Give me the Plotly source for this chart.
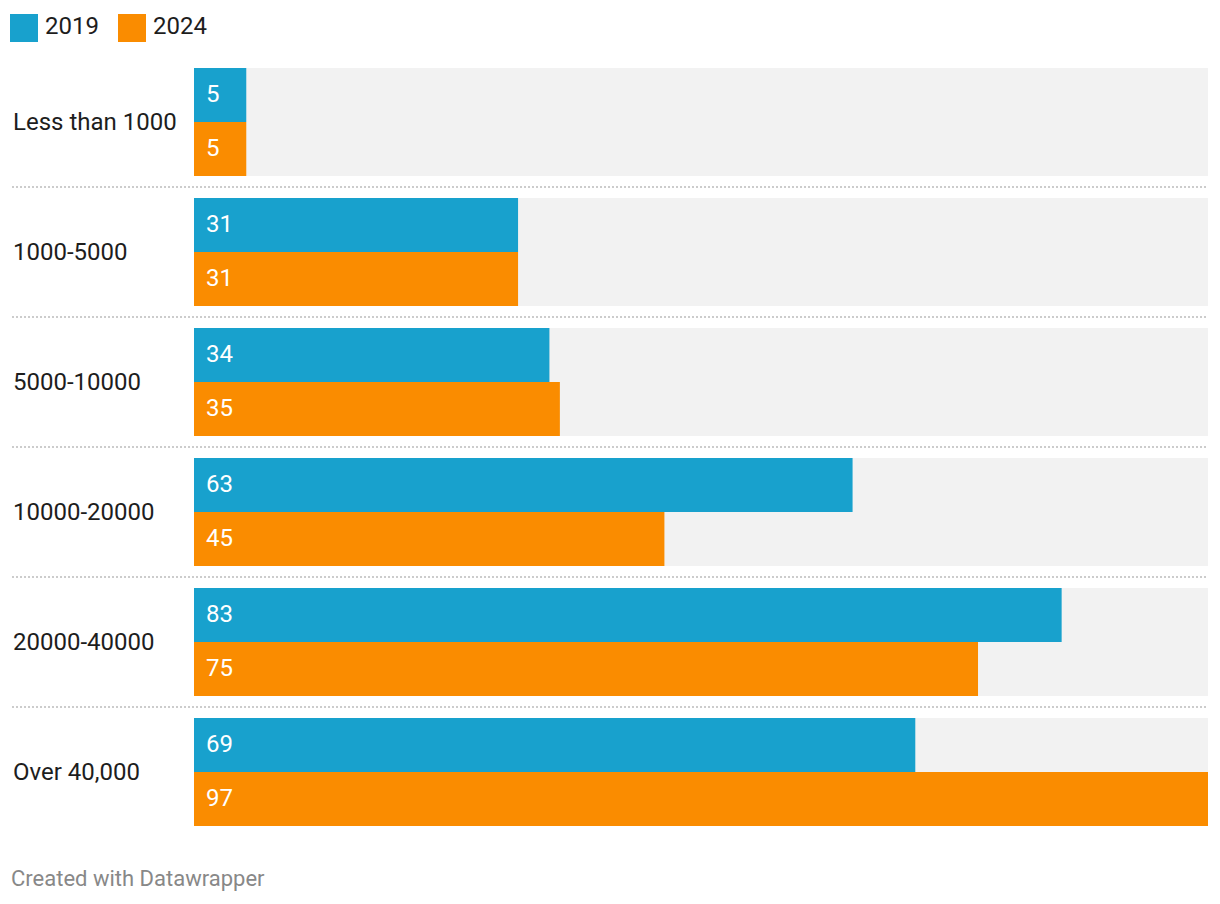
import plotly.graph_objects as go

categories = ["Less than 1000", "1000-5000", "5000-10000", "10000-20000", "20000-40000", "Over 40,000"]
series_names = ["2019", "2024"]
values_2019 = [5, 31, 34, 63, 83, 69]
values_2024 = [5, 31, 35, 45, 75, 97]
footer_text = "Created with Datawrapper"

# page body has an 8px margin; positions below are page pixels
OFF = 8
W, H = 1220 - OFF, 904 - OFF
ML, MR, MT, MB = 194 - OFF, 12, 57 - OFF, 67
PW = W - ML - MR
PH = H - MT - MB

def px_x(p):
    return (p - OFF - ML) / PW

def px_y(p):
    return (H - MB - (p - OFF)) / PH

BLUE = "#18a1cd"
ORANGE = "#fa8c00"
GRAY = "#f2f2f2"
FONT = "Roboto"

band = 108 / 130
half = band / 2
bar_px = 54

maxval = max(values_2019 + values_2024)

fig = go.Figure()
fig.add_bar(
    x=[maxval] * len(categories), y=categories, orientation="h",
    marker=dict(color=GRAY, line=dict(width=0)), width=band, offset=-half,
    hoverinfo="skip", showlegend=False,
)
annotations = []
for name, vals, col, off, ysh in [(series_names[0], values_2019, BLUE, -half, bar_px / 2 + 1),
                                  (series_names[1], values_2024, ORANGE, 0, -bar_px / 2 + 1)]:
    fig.add_bar(
        x=vals, y=categories, orientation="h", name=name,
        marker=dict(color=col, line=dict(width=0)), width=half, offset=off,
        showlegend=False,
    )
    for c, v in zip(categories, vals):
        annotations.append(dict(
            xref="x", yref="y", x=0, y=c, text=str(v), showarrow=False,
            xanchor="left", yanchor="middle", xshift=10, yshift=ysh,
            font=dict(family=FONT, size=24, color="white"),
        ))

shapes = []
for i in range(len(categories) - 1):
    shapes.append(dict(
        type="line", xref="paper", yref="y", x0=px_x(12), x1=1,
        y0=i + 0.5, y1=i + 0.5,
        line=dict(color="#cccccc", width=2, dash="2px,2px"),
    ))

for c in categories:
    annotations.append(dict(
        xref="paper", yref="y", x=px_x(11), y=c, text=c, showarrow=False,
        xanchor="left", yanchor="middle",
        font=dict(family=FONT, size=24, color="#1d1d1d"),
    ))

# legend
leg_x = [10, 118]
for name, col, lx in zip(series_names, [BLUE, ORANGE], leg_x):
    shapes.append(dict(
        type="rect", xref="paper", yref="paper",
        x0=px_x(lx), x1=px_x(lx + 28), y0=px_y(42), y1=px_y(14),
        fillcolor=col, line=dict(width=0),
    ))
    annotations.append(dict(
        xref="paper", yref="paper", x=px_x(lx + 33), y=px_y(26), text=name,
        showarrow=False, xanchor="left", yanchor="middle",
        font=dict(family=FONT, size=24, color="#1d1d1d"),
    ))

annotations.append(dict(
    xref="paper", yref="paper", x=px_x(9), y=px_y(878), text=footer_text,
    showarrow=False, xanchor="left", yanchor="middle",
    font=dict(family=FONT, size=22, color="#888888"),
))

fig.update_layout(
    width=W, height=H,
    margin=dict(l=ML, r=MR, t=MT, b=MB, pad=0),
    barmode="overlay",
    plot_bgcolor="white", paper_bgcolor="white",
    xaxis=dict(range=[0, maxval], visible=False, fixedrange=True),
    yaxis=dict(range=[len(categories) - 0.5, -0.5], visible=False,
               type="category", categoryorder="array", categoryarray=categories),
    shapes=shapes, annotations=annotations,
    showlegend=False,
    font=dict(family=FONT),
)

fig.write_html("out.html")
